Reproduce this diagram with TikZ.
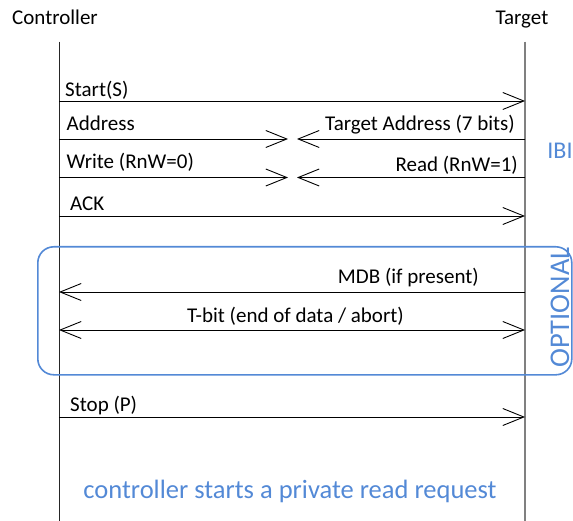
\documentclass[tikz,border=0pt]{standalone}
\usepackage{fontspec}
\setmainfont{Carlito}
\usetikzlibrary{arrows.meta}
\definecolor{ibiblue}{RGB}{83,137,214}
\tikzset{
  x=1pt, y=-1pt,
  lifeline/.style={line width=1pt, draw=black!85},
  tlifeline/.style={line width=1.8pt, draw=black!50},
  msg/.style={line width=0.9pt, draw=black,
    -{Straight Barb[length=21pt,width=17pt,line width=0.9pt]}},
  bimsg/.style={line width=0.9pt, draw=black,
    {Straight Barb[length=21pt,width=17pt,line width=0.9pt]}-{Straight Barb[length=21pt,width=17pt,line width=0.9pt]}},
  lbl/.style={inner sep=0pt, font=\fontsize{21}{25}\selectfont},
  bluelbl/.style={inner sep=0pt, text=ibiblue},
  optbox/.style={draw=ibiblue, line width=1.6pt, rounded corners=16pt}
}
\begin{document}
\begin{tikzpicture}
\useasboundingbox (0,0) rectangle (573,521);

% lifeline heads
\node[lbl, anchor=base west] (ctl) at (12,25) {Controller};
\node[lbl, anchor=base east] (tgt) at (548.5,25) {Target};

% lifelines
\coordinate (ctop) at (59,41.7);
\coordinate (cbot) at (59,521);
\coordinate (ttop) at (525,41.7);
\coordinate (tbot) at (525,521);
\draw[lifeline] (ctop) -- (cbot);
\draw[tlifeline] (ttop) -- (tbot);

% optional section
\node[optbox, minimum width=534pt, minimum height=128pt, anchor=north west, inner sep=0pt]
  (opt) at (37,246) {};
\node[bluelbl, rotate=90, anchor=base, text depth=0pt, font=\fontsize{28.5}{32}\selectfont]
  (opttxt) at (569,307.5) {OPTIONAL};

% message end points
\coordinate (c1) at (59,101);   \coordinate (t1) at (525,101);
\coordinate (c2) at (59,139);   \coordinate (t2) at (525,139);
\coordinate (m2a) at (288,139); \coordinate (m2b) at (297,139);
\coordinate (c3) at (59,177.5); \coordinate (t3) at (525,177.5);
\coordinate (m3a) at (288,177.5); \coordinate (m3b) at (297,177.5);
\coordinate (c4) at (59,216);   \coordinate (t4) at (525,216);
\coordinate (c5) at (59,292);   \coordinate (t5) at (525,292);
\coordinate (c6) at (59,330);   \coordinate (t6) at (525,330);
\coordinate (c7) at (59,417);   \coordinate (t7) at (525,417);

% messages
\draw[msg] (c1) -- (t1);
\draw[msg] (c2) -- (m2a);
\draw[msg] (t2) -- (m2b);
\draw[msg] (c3) -- (m3a);
\draw[msg] (t3) -- (m3b);
\draw[msg] (c4) -- (t4);
\draw[msg] (t5) -- (c5);
\draw[bimsg] (c6) -- (t6);
\draw[msg] (c7) -- (t7);

% message labels
\node[lbl, anchor=base west] (l1) at (65,96.5) {Start(S)};
\node[lbl, anchor=base west] (l2) at (66.5,130.5) {Address};
\node[lbl, anchor=base east] (l2b) at (515,130.5) {Target Address (7 bits)};
\node[lbl, anchor=base west] (l3) at (66.5,169) {Write (RnW=0)};
\node[lbl, anchor=base east] (l3b) at (518,172) {Read (RnW=1)};
\node[lbl, anchor=base west] (l4) at (70,210.5) {ACK};
\node[lbl, anchor=base east] (l5) at (479,283.5) {MDB (if present)};
\node[lbl, anchor=base] (l6) at (295.5,322.5) {T-bit (end of data / abort)};
\node[lbl, anchor=base west] (l7) at (70,411.5) {Stop (P)};

% annotations
\node[bluelbl, font=\fontsize{24}{28}\selectfont] (ibi) at (560,150.5) {IBI};
\node[bluelbl, anchor=base, font=\fontsize{26.5}{30}\selectfont] (note) at (290,498.5)
  {controller starts a private read request};
\end{tikzpicture}
\end{document}
